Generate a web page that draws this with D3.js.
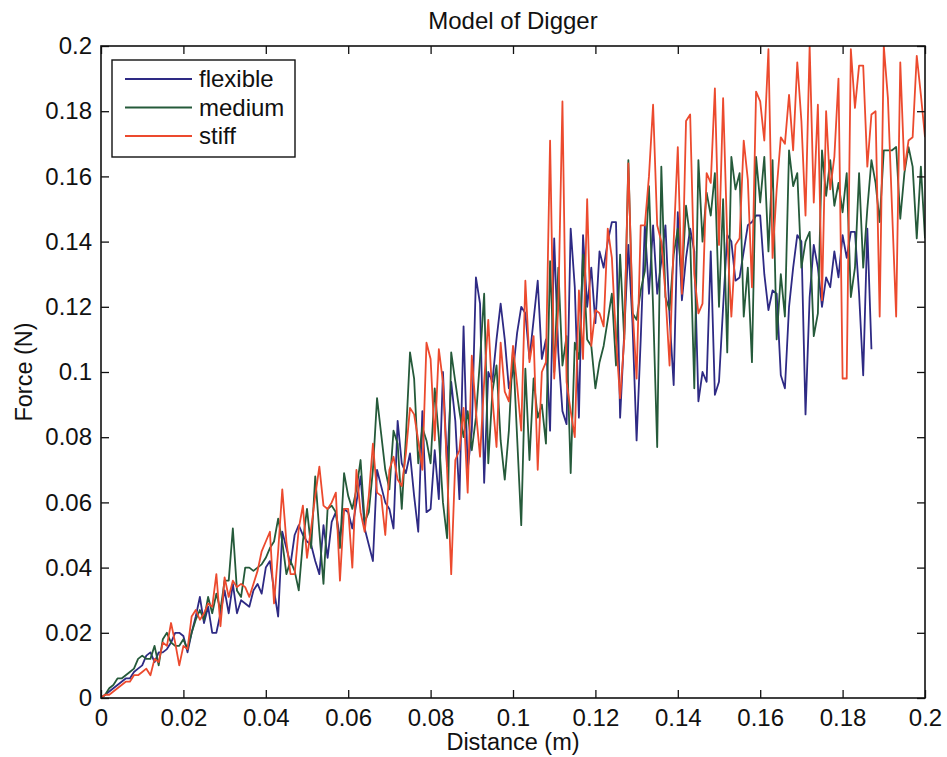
<!DOCTYPE html>
<html>
<head>
<meta charset="utf-8">
<script src="https://cdn.jsdelivr.net/npm/d3@7"></script>
<style>
  html, body { margin: 0; padding: 0; background: #fff; }
  svg { display: block; font-family: "Liberation Sans", Arial, Helvetica, sans-serif; }
</style>
</head>
<body>
<svg id="chart" width="947" height="757"></svg>
<script>
// Distance step of the sampled series (m) and x-axis extent
const distanceStep = 0.001;
const xTicks = [0, 0.02, 0.04, 0.06, 0.08, 0.1, 0.12, 0.14, 0.16, 0.18, 0.2];
const yTicks = [0, 0.02, 0.04, 0.06, 0.08, 0.1, 0.12, 0.14, 0.16, 0.18, 0.2];
const xTickLabels = ["0", "0.02", "0.04", "0.06", "0.08", "0.1", "0.12", "0.14", "0.16", "0.18", "0.2"];
const yTickLabels = ["0", "0.02", "0.04", "0.06", "0.08", "0.1", "0.12", "0.14", "0.16", "0.18", "0.2"];
const seriesNames = ["flexible", "medium", "stiff"];

// Force (N), one value per 0.001 m of distance
const flexible = [
  0, .001, .002, .003, .004, .005, .006, .006, .008, .009, .010,
  .013, .014, .011, .014, .014, .015, .017, .020, .020, .019,
  .014, .020, .025, .031, .023, .028, .020, .020, .026, .033,
  .026, .035, .026, .030, .029, .028, .033, .035, .032, .040,
  .042, .033, .025, .051, .046, .041, .050, .053, .050, .048,
  .047, .042, .038, .053, .043, .054, .057, .049, .058, .057,
  .052, .060, .068, .052, .047, .042, .070, .065, .060, .058,
  .052, .085, .072, .069, .075, .062, .051, .088, .057, .058,
  .076, .061, .100, .071, .097, .085, .061, .114, .070, .082,
  .129, .121, .066, .100, .097, .110, .121, .110, .095, .100,
  .112, .120, .118, .104, .116, .128, .104, .110, .082, .141,
  .106, .088, .084, .144, .126, .086, .142, .120, .132, .115,
  .137, .132, .140, .146, .146, .086, .112, .139, .115, .079,
  .110, .145, .124, .145, .124, .134, .145, .117, .096, .149,
  .122, .135, .144, .137, .091, .100, .097, .137, .093, .097,
  .120, .142, .140, .128, .129, .137, .145, .146, .148, .148,
  .130, .119, .125, .124, .099, .095, .120, .132, .142, .140,
  .087, .123, .139, .132, .120, .129, .126, .137, .129, .142,
  .135, .143, .143, .124, .099, .144, .107
];
const medium = [
  0, .001, .003, .004, .006, .006, .007, .008, .009, .012, .013,
  .012, .012, .016, .010, .018, .020, .017, .016, .016, .018,
  .015, .020, .024, .027, .024, .031, .026, .032, .027, .036,
  .036, .052, .033, .031, .040, .040, .039, .040, .041, .043,
  .046, .048, .055, .048, .038, .042, .039, .033, .048, .058,
  .046, .068, .051, .035, .058, .059, .057, .046, .069, .062,
  .058, .064, .073, .054, .057, .070, .092, .081, .070, .064,
  .082, .078, .058, .080, .106, .098, .072, .083, .079, .072,
  .095, .080, .060, .049, .106, .097, .088, .080, .088, .076,
  .086, .104, .124, .072, .094, .102, .079, .067, .082, .107,
  .080, .053, .101, .073, .098, .086, .090, .078, .134, .100,
  .132, .102, .111, .069, .109, .104, .136, .110, .108, .095,
  .103, .108, .116, .124, .102, .136, .110, .165, .118, .116,
  .125, .131, .157, .120, .077, .163, .123, .119, .136, .144,
  .128, .151, .141, .095, .165, .140, .155, .148, .161, .120,
  .153, .106, .166, .156, .161, .117, .132, .103, .166, .152,
  .166, .137, .165, .110, .130, .117, .168, .157, .161, .132,
  .140, .143, .111, .118, .168, .154, .165, .151, .158, .149,
  .161, .123, .132, .161, .132, .150, .165, .158, .146, .168,
  .168, .168, .169, .147, .161, .169, .163, .141, .163, .141
];
const stiff = [
  0, .001, .001, .002, .003, .004, .005, .005, .007, .007, .008,
  .009, .007, .012, .011, .017, .016, .023, .017, .010, .016,
  .015, .025, .027, .024, .026, .029, .028, .038, .022, .037,
  .031, .036, .034, .035, .034, .031, .035, .039, .045, .048,
  .051, .029, .045, .064, .048, .038, .038, .052, .059, .043,
  .052, .062, .071, .059, .058, .060, .063, .036, .058, .058,
  .040, .070, .057, .051, .062, .078, .063, .062, .050, .070,
  .074, .067, .065, .075, .089, .087, .079, .070, .109, .104,
  .079, .107, .097, .070, .038, .073, .076, .089, .063, .105,
  .088, .074, .097, .116, .092, .077, .109, .094, .091, .108,
  .096, .082, .128, .103, .111, .070, .100, .103, .171, .098,
  .120, .183, .097, .088, .080, .125, .104, .153, .108, .119,
  .118, .114, .144, .135, .110, .092, .110, .164, .120, .098,
  .145, .145, .160, .182, .145, .140, .124, .102, .140, .169,
  .124, .177, .179, .130, .118, .121, .161, .158, .187, .139,
  .184, .141, .117, .139, .141, .171, .159, .126, .186, .183,
  .171, .199, .135, .156, .172, .170, .185, .168, .195, .177,
  .148, .200, .152, .182, .122, .180, .156, .166, .190, .098,
  .098, .199, .181, .194, .194, .163, .179, .180, .117, .200,
  .184, .150, .117, .195, .162, .171, .172, .197, .185, .172
];

const colors = { flexible: "#2e2a84", medium: "#255a3a", stiff: "#ec4a2e" };
const seriesData = { flexible, medium, stiff };

const svg = d3.select("#chart");
const margin = { left: 101, right: 22, top: 46, bottom: 59 };
const W = 947, H = 757;
const x = d3.scaleLinear().domain([0, 0.2]).range([margin.left, W - margin.right]);
const y = d3.scaleLinear().domain([0, 0.2]).range([H - margin.bottom, margin.top]);

svg.append("defs").append("clipPath").attr("id", "plotclip")
  .append("rect")
  .attr("x", x(0)).attr("y", y(0.2))
  .attr("width", x(0.2) - x(0)).attr("height", y(0) - y(0.2));

// Lines
const line = d3.line()
  .x((d, i) => x(i * distanceStep))
  .y(d => y(d));

const plotG = svg.append("g").attr("clip-path", "url(#plotclip)");
seriesNames.forEach(name => {
  plotG.append("path")
    .datum(seriesData[name])
    .attr("fill", "none")
    .attr("stroke", colors[name])
    .attr("stroke-width", 1.8)
    .attr("stroke-linejoin", "round")
    .attr("d", line);
});

// Axes (MATLAB-like: inward ticks on all four sides)
const tickLen = 8;
const fontSize = 24;
const xAxisB = d3.axisBottom(x).tickValues(xTicks).tickSizeInner(-tickLen).tickSizeOuter(0)
  .tickPadding(11).tickFormat((d, i) => xTickLabels[i]);
const xAxisT = d3.axisTop(x).tickValues(xTicks).tickSizeInner(-tickLen).tickSizeOuter(0).tickFormat("");
const yAxisL = d3.axisLeft(y).tickValues(yTicks).tickSizeInner(-tickLen).tickSizeOuter(0)
  .tickPadding(9).tickFormat((d, i) => yTickLabels[i]);
const yAxisR = d3.axisRight(y).tickValues(yTicks).tickSizeInner(-tickLen).tickSizeOuter(0).tickFormat("");

function styleAxis(g) {
  g.select(".domain").remove();
  g.selectAll(".tick line").attr("stroke", "#111").attr("stroke-width", 1.3);
  g.selectAll(".tick text").attr("fill", "#111").style("font-size", fontSize + "px");
}
svg.append("g").attr("transform", `translate(0,${y(0)})`).call(xAxisB).call(styleAxis);
svg.append("g").attr("transform", `translate(0,${y(0.2)})`).call(xAxisT).call(styleAxis);
svg.append("g").attr("transform", `translate(${x(0)},0)`).call(yAxisL).call(styleAxis);
svg.append("g").attr("transform", `translate(${x(0.2)},0)`).call(yAxisR).call(styleAxis);

// Frame
svg.append("rect")
  .attr("x", x(0)).attr("y", y(0.2))
  .attr("width", x(0.2) - x(0)).attr("height", y(0) - y(0.2))
  .attr("fill", "none").attr("stroke", "#111").attr("stroke-width", 1.6);

// Title and labels
svg.append("text").attr("x", (x(0) + x(0.2)) / 2).attr("y", 29)
  .attr("text-anchor", "middle").style("font-size", "24px").attr("fill", "#111")
  .text("Model of Digger");
svg.append("text").attr("x", (x(0) + x(0.2)) / 2).attr("y", 750)
  .attr("text-anchor", "middle").style("font-size", "23.5px").attr("fill", "#111")
  .text("Distance (m)");
svg.append("text")
  .attr("transform", `translate(32,${(y(0) + y(0.2)) / 2}) rotate(-90)`)
  .attr("text-anchor", "middle").style("font-size", "23.5px").attr("fill", "#111")
  .text("Force (N)");

// Legend
const lg = svg.append("g");
lg.append("rect").attr("x", 112).attr("y", 60).attr("width", 183).attr("height", 97)
  .attr("fill", "#fff").attr("stroke", "#111").attr("stroke-width", 1.4);
seriesNames.forEach((name, i) => {
  const yy = 79 + i * 28.5;
  lg.append("line").attr("x1", 125).attr("x2", 192).attr("y1", yy).attr("y2", yy)
    .attr("stroke", colors[name]).attr("stroke-width", 1.8);
  lg.append("text").attr("x", 199).attr("y", yy + 8)
    .style("font-size", "24px").attr("fill", "#111").text(name);
});
</script>
</body>
</html>
